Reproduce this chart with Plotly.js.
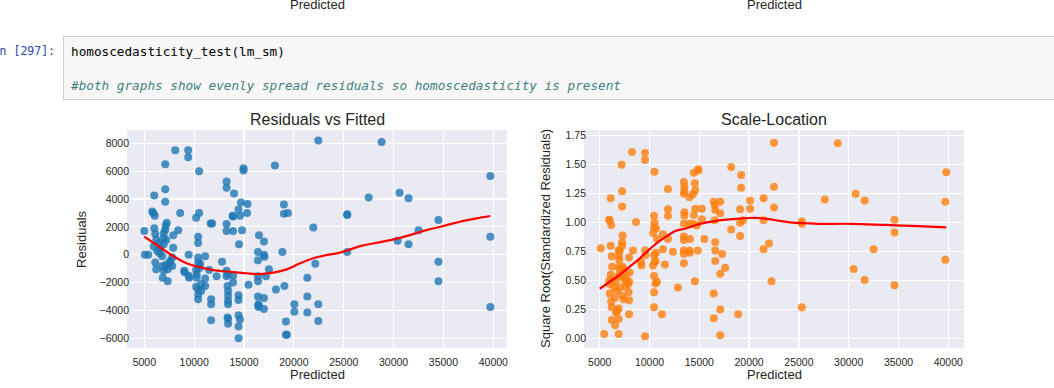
<!DOCTYPE html>
<html>
<head>
<meta charset="utf-8">
<script src="https://cdn.plot.ly/plotly-3.0.1.min.js"></script>
<style>
  html, body { margin:0; padding:0; background:#fff; width:1054px; height:388px; overflow:hidden; }
  #chart { position:absolute; left:0; top:0; width:1054px; height:388px; }
  #prompt { position:absolute; right:999px; top:41px; font-family:"DejaVu Sans Mono", monospace; font-size:11.5px; color:#303F9F; white-space:pre; line-height:20px; }
  #cell { position:absolute; left:63px; top:36px; width:1010px; height:64px; background:#f7f7f7; border:1px solid #cfcfcf; box-sizing:border-box; }
  .code { position:absolute; left:7px; font-family:"DejaVu Sans Mono", monospace; font-size:12.7px; white-space:pre; line-height:16px; }
  #l1 { top:7px; color:#000; }
  #l2 { top:41px; color:#408080; font-style:italic; }
</style>
</head>
<body>
<div id="chart"></div>
<div id="prompt">In [297]:</div>
<div id="cell"><div class="code" id="l1">homoscedasticity_test(lm_sm)</div><div class="code" id="l2">#both graphs show evenly spread residuals so homoscedasticity is present</div></div>
<script>
// ---- Residuals vs Fitted ----
const residX = [5000,5050,5400,5800,5900,6000,6050,6000,6100,5950,6200,6450,6600,6300,6550,6800,6950,7100,6950,7200,6950,7150,7250,6100,6200,6800,6950,6850,7350,7200,7550,7800,7900,7600,7800,7350,7100,7100,7100,8400,7900,8600,8100,9000,9050,9500,9400,9400,9450,9450,10500,10200,10500,10400,10400,10400,10400,10200,10250,10250,10200,10400,10400,10400,10550,10600,10700,10700,11100,11100,11100,11500,11650,11800,11700,11700,11700,12250,12800,13250,13250,13250,13250,13250,13250,13350,13400,13400,13400,13400,13350,13400,13400,13360,13900,13850,13900,14000,13900,13900,14450,14700,14600,14500,14800,14950,14950,15300,15350,14450,14450,14450,14600,14450,14450,15450,16500,16400,16400,16400,16400,16400,16450,16450,16450,17000,17000,17050,17000,17000,17200,17500,18200,18100,19000,19000,19400,18850,19050,19200,19200,19300,20050,20050,21950,22150,21350,21350,21350,22450,22450,22450,25350,25350,25350,27500,28800,30400,30600,31500,31500,32500,34500,34500,34500,39700,39700,39700];
const residY = [1700,0,0,3100,3000,4250,2800,1900,1500,600,1100,850,500,260,100,-100,1550,1800,1200,1050,750,2100,2300,-550,-1050,-800,-1150,-1650,-1900,-700,-570,-200,500,-450,-800,-1050,6500,4700,3800,1750,1400,3000,7500,-1150,-1250,-1650,7500,7000,0,-1500,6000,2650,3000,1300,850,-200,-550,-1100,-1400,-1650,-2300,-2500,-2850,-3200,-950,-650,-2100,-2600,-100,-1700,-2250,-1100,2250,2250,-3200,-3550,-4700,-1550,-500,5250,4800,2200,1700,-1150,-1550,-2250,-2600,-2950,-3300,-3550,-4500,-4600,-4950,-1400,1700,2800,2750,4400,-1500,-2000,3250,3750,2800,750,1750,6200,6050,3000,3650,-2900,-3250,-4350,-4650,-5150,-6000,-2150,1400,200,-400,-1550,-1900,-3000,-3550,-3650,-3750,950,0,-150,-3100,-3900,-1550,-1050,-2500,6400,3600,2950,3000,200,-2250,-4800,-5750,-5750,-3550,-4100,1950,-650,-1650,-3000,-4150,8200,-3550,-4750,2900,2850,200,4100,8100,1000,4450,4050,750,1750,2500,-500,-1900,5650,1300,-3750];
const lowess1X = [5000,6240,7580,9250,10590,11920,13600,15270,16600,17940,19280,20620,21950,23290,24630,26650,28300,30000,31650,33300,35000,36650,38300,39700];
const lowess1Y = [1300,700,50,-615,-900,-1100,-1220,-1330,-1390,-1290,-1050,-615,-255,-20,150,620,860,1100,1410,1770,2060,2370,2610,2780];

// ---- Scale-Location ----
const sqrtX = [5100,5450,5950,6000,6100,6150,6100,6200,6250,5950,6000,6150,6200,6200,6550,6900,6650,6900,6900,6500,7200,7250,7250,7300,7250,7250,7000,6950,6950,7000,7300,7000,7300,7600,7650,7400,7950,8000,7950,7900,7950,7950,8350,8250,8650,9150,9200,9550,9550,9550,9600,9550,10500,10450,10500,10450,10350,10650,10750,10450,10500,10350,10600,10450,10450,10450,10600,10750,10650,11250,11350,11350,11550,11850,11850,11850,11850,12350,12850,13450,13500,13500,13450,13500,13500,13450,13450,13450,13450,13450,13450,14000,14350,14450,14550,14600,14000,14050,14000,14050,14350,14450,14600,14750,14900,14900,14850,14550,15250,15250,15500,16450,16550,16600,16550,16600,16600,16600,16450,16450,17100,17100,17300,17100,17100,17100,17600,18200,18200,19200,19200,19100,19100,19100,19400,18900,20100,20100,21450,21450,21450,22000,22250,22500,22500,22500,25300,25300,25300,27600,28900,30500,30700,31600,31600,32500,34600,34600,34600,39800,39700,39700,6100,6000,6750,6300,6450,6620,6750,6900,6950,6900,7050,7250,7400,7500,7570,7870];
const sqrtY = [0.78,0.04,1.025,1.02,1.21,0.98,0.80,0.71,0.62,0.50,0.39,0.32,0.27,0.16,0.115,0.04,0.22,0.17,0.26,0.35,1.50,1.27,1.14,0.89,0.83,0.80,0.76,0.71,0.68,0.60,0.62,0.55,0.53,0.45,0.52,0.34,0.70,0.57,0.49,0.40,0.33,0.21,0.76,1.61,1.005,0.66,0.63,1.60,1.54,0.76,0.72,0.02,1.44,1.06,1.00,0.96,0.91,0.95,0.86,0.72,0.66,0.63,0.67,0.54,0.40,0.27,0.475,0.49,0.74,0.21,0.77,0.90,0.64,1.29,1.115,1.06,0.86,0.75,0.44,1.35,1.31,1.275,1.25,1.09,1.06,0.99,0.88,0.85,0.76,0.73,0.65,1.22,1.245,1.43,1.34,1.28,0.99,0.86,0.76,0.74,0.99,1.065,1.12,0.975,1.46,1.45,0.76,0.495,1.12,1.03,0.86,1.18,1.15,1.11,1.02,0.83,0.76,0.67,0.39,0.175,1.18,1.08,0.73,0.56,0.25,0.03,0.61,1.48,0.94,1.41,1.30,1.115,1.00,0.885,1.02,0.21,1.19,1.12,1.21,1.02,0.77,0.82,0.495,1.69,1.31,1.13,1.01,0.99,0.27,1.20,1.685,0.60,1.25,1.19,0.505,0.77,1.025,0.915,0.46,1.435,1.18,0.68,0.55,0.47,0.24,0.51,0.44,0.49,0.41,0.54,0.62,0.76,0.44,0.37,0.60,0.57,0.50,0.47];
const lowess2X = [5000,6000,7000,8000,9000,10000,11000,11850,12650,13650,14650,15650,17000,18350,20000,21000,22000,23000,24350,25700,27000,30350,33700,37000,39800];
const lowess2Y = [0.43,0.49,0.55,0.62,0.69,0.77,0.84,0.89,0.93,0.95,0.98,1.00,1.02,1.03,1.04,1.04,1.03,1.015,1.00,0.995,0.99,0.99,0.98,0.97,0.96];

const xTicks = [5000,10000,15000,20000,25000,30000,35000,40000];
const xTickText = ['5000','10000','15000','20000','25000','30000','35000','40000'];
const yTicks1 = [-6000,-4000,-2000,0,2000,4000,6000,8000];
const yTickText1 = ['\u22126000','\u22124000','\u22122000','0','2000','4000','6000','8000'];
const yTicks2 = [0,0.25,0.5,0.75,1.0,1.25,1.5,1.75];
const yTickText2 = ['0.00','0.25','0.50','0.75','1.00','1.25','1.50','1.75'];

const W = 1054, H = 388;
const px = v => v / W;
const py = v => 1 - v / H;
const txt = '#262626';
const FONT = 'Liberation Sans, Arial, sans-serif';

const traces = [
  {x: residX, y: residY, type: 'scatter', mode: 'markers', xaxis: 'x', yaxis: 'y',
   marker: {color: '#1f77b4', size: 8, opacity: 0.8, line: {width: 0}}, hoverinfo: 'skip'},
  {x: lowess1X, y: lowess1Y, type: 'scatter', mode: 'lines', xaxis: 'x', yaxis: 'y',
   line: {color: '#ff0000', width: 2.2, shape: 'spline'}, hoverinfo: 'skip'},
  {x: sqrtX, y: sqrtY, type: 'scatter', mode: 'markers', xaxis: 'x2', yaxis: 'y2',
   marker: {color: '#ff7f0e', size: 8, opacity: 0.8, line: {width: 0}}, hoverinfo: 'skip'},
  {x: lowess2X, y: lowess2Y, type: 'scatter', mode: 'lines', xaxis: 'x2', yaxis: 'y2',
   line: {color: '#ff0000', width: 2.2, shape: 'spline'}, hoverinfo: 'skip'}
];

const axisCommon = {
  showgrid: true, gridcolor: '#ffffff', gridwidth: 1.2, zeroline: false, showline: false,
  ticks: '', tickmode: 'array', tickfont: {family: FONT, size: 10.5, color: txt}, fixedrange: true
};

const layout = {
  width: W, height: H, margin: {l: 0, r: 0, t: 0, b: 0},
  paper_bgcolor: 'rgba(0,0,0,0)', plot_bgcolor: '#eaeaf2', showlegend: false,
  xaxis: Object.assign({}, axisCommon, {domain: [px(127), px(507)], range: [3265, 41374], tickvals: xTicks, ticktext: xTickText, anchor: 'y', ticklabelstandoff: 6}),
  yaxis: Object.assign({}, axisCommon, {domain: [py(348), py(130)], range: [-6696, 8955], tickvals: yTicks1, ticktext: yTickText1, anchor: 'x', ticklabelstandoff: -3}),
  xaxis2: Object.assign({}, axisCommon, {domain: [px(584), px(964)], range: [3422, 41578], tickvals: xTicks, ticktext: xTickText, anchor: 'y2', ticklabelstandoff: 6}),
  yaxis2: Object.assign({}, axisCommon, {domain: [py(348), py(130)], range: [-0.081, 1.799], tickvals: yTicks2, ticktext: yTickText2, anchor: 'x2', ticklabelstandoff: -3}),
  annotations: [
    {text: 'Predicted', x: px(317), y: py(5), xref: 'paper', yref: 'paper', showarrow: false, xanchor: 'center', yanchor: 'middle', font: {family: FONT, size: 13, color: txt}},
    {text: 'Predicted', x: px(774), y: py(5), xref: 'paper', yref: 'paper', showarrow: false, xanchor: 'center', yanchor: 'middle', font: {family: FONT, size: 13, color: txt}},
    {text: 'Residuals vs Fitted', x: px(317), y: py(119), xref: 'paper', yref: 'paper', showarrow: false, xanchor: 'center', yanchor: 'middle', font: {family: FONT, size: 16, color: txt}},
    {text: 'Scale-Location', x: px(774), y: py(119), xref: 'paper', yref: 'paper', showarrow: false, xanchor: 'center', yanchor: 'middle', font: {family: FONT, size: 16, color: txt}},
    {text: 'Predicted', x: px(317), y: py(374), xref: 'paper', yref: 'paper', showarrow: false, xanchor: 'center', yanchor: 'middle', font: {family: FONT, size: 13, color: txt}},
    {text: 'Predicted', x: px(774), y: py(374), xref: 'paper', yref: 'paper', showarrow: false, xanchor: 'center', yanchor: 'middle', font: {family: FONT, size: 13, color: txt}},
    {text: 'Residuals', x: px(81), y: py(239), xref: 'paper', yref: 'paper', showarrow: false, xanchor: 'center', yanchor: 'middle', textangle: -90, font: {family: FONT, size: 13, color: txt}},
    {text: 'Square Root(Standardized Residuals)', x: px(545), y: py(239), xref: 'paper', yref: 'paper', showarrow: false, xanchor: 'center', yanchor: 'middle', textangle: -90, font: {family: FONT, size: 13, color: txt}}
  ]
};

Plotly.newPlot('chart', traces, layout, {staticPlot: true, displayModeBar: false});
</script>
</body>
</html>
